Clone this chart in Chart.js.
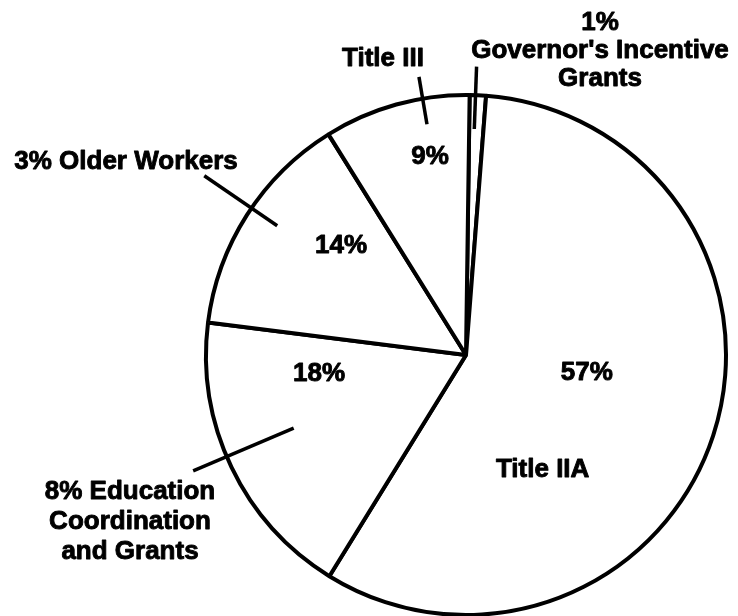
<!DOCTYPE html>
<html>
<head>
<meta charset="utf-8">
<script src="https://cdn.jsdelivr.net/npm/chart.js@4/dist/chart.umd.min.js"></script>
<style>
    html, body { margin: 0; padding: 0; background: #fff; }
    #wrap { width: 738px; height: 616px; position: relative; }
</style>
</head>
<body>
<div id="wrap"><canvas id="myChart"></canvas></div>
<script>
// slices, clockwise from the top
const categories = ["Governor's Incentive Grants", "Title IIA", "Education Coordination and Grants", "Older Workers", "Title III"]
const shares = [1, 57, 18, 14, 9]
const insideText = [[], ["57%", "Title IIA"], ["18%"], ["14%"], ["9%"]]
const outsideText = [
    ["1%", "Governor's Incentive", "Grants"],
    [],
    ["8% Education", "Coordination", "and Grants"],
    ["3% Older Workers"],
    ["Title III"]
]

// placement only (angle in degrees clockwise from 12 o'clock, r as a fraction of the radius)
const insidePos = [[], [[98.5, 0.47], [146.2, 0.53]], [[262.6, 0.57]], [[311.1, 0.638]], [[349.7, 0.774]]]
const outsidePos = [   // block centre offset from pie centre, px, and line height
    { dx: 134, dy: -304, lh: 28 },
    null,
    { dx: -336, dy: 167, lh: 30 },
    { dx: -340, dy: -193, lh: 28 },
    { dx: -83, dy: -296, lh: 28 }
]
const leaders = [[2.1, 0.87, 1.11], null, [247.0, 0.72, 1.14], [304.4, 0.88, 1.22], [350.4, 0.90, 1.085]]

const FONT = 'bold 26px "Liberation Sans", Arial, sans-serif'

const labelPlugin = {
    id: 'pieLabels',
    afterDatasetsDraw(chart) {
        const ctx = chart.ctx
        const arc = chart.getDatasetMeta(0).data[0]
        const cx = arc.x, cy = arc.y, R = arc.outerRadius
        const polar = (deg, r) => {
            const a = deg * Math.PI / 180
            return [cx + Math.sin(a) * r * R, cy - Math.cos(a) * r * R]
        }
        // the scanned type is heavier than plain bold, so stroke it a little too
        const text = (t, x, y) => {
            ctx.fillText(t, x, y)
            ctx.strokeText(t, x, y)
        }
        ctx.save()
        ctx.fillStyle = '#000'
        ctx.strokeStyle = '#000'
        ctx.font = FONT
        ctx.textAlign = 'center'
        ctx.textBaseline = 'middle'
        ctx.lineWidth = 0.9
        ctx.lineJoin = 'round'

        insideText.forEach((lines, i) => {
            lines.forEach((t, j) => {
                const [x, y] = polar(insidePos[i][j][0], insidePos[i][j][1])
                text(t, x, y)
            })
        })

        outsideText.forEach((lines, i) => {
            const p = outsidePos[i]
            if (!p) return
            const top = cy + p.dy - (lines.length - 1) * p.lh / 2
            lines.forEach((t, j) => text(t, cx + p.dx, top + j * p.lh))
        })

        ctx.lineWidth = 3.5
        ctx.lineCap = 'butt'
        leaders.forEach(l => {
            if (!l) return
            const [x0, y0] = polar(l[0], l[1])
            const [x1, y1] = polar(l[0], l[2])
            ctx.beginPath()
            ctx.moveTo(x0, y0)
            ctx.lineTo(x1, y1)
            ctx.stroke()
        })
        ctx.restore()
    }
}

function createChart() {
    const data = {
        labels: categories,
        datasets: [{
            data: shares,
            backgroundColor: '#ffffff',
            borderColor: '#000000',
            borderWidth: 4,
            radius: 260,
            hoverOffset: 0
        }]
    }

    const config = {
        type: 'pie',
        data: data,
        options: {
            responsive: true,
            maintainAspectRatio: false,
            animation: false,
            rotation: 0.8,
            layout: { padding: { left: 200, right: 6, top: 94, bottom: 0 } },
            plugins: {
                legend: { display: false },
                tooltip: { enabled: false }
            }
        },
        plugins: [labelPlugin]
    }

    return new Chart(document.getElementById('myChart'), config)
}

var chart

window.addEventListener('DOMContentLoaded', () => {
    chart = createChart()
})
</script>
</body>
</html>
